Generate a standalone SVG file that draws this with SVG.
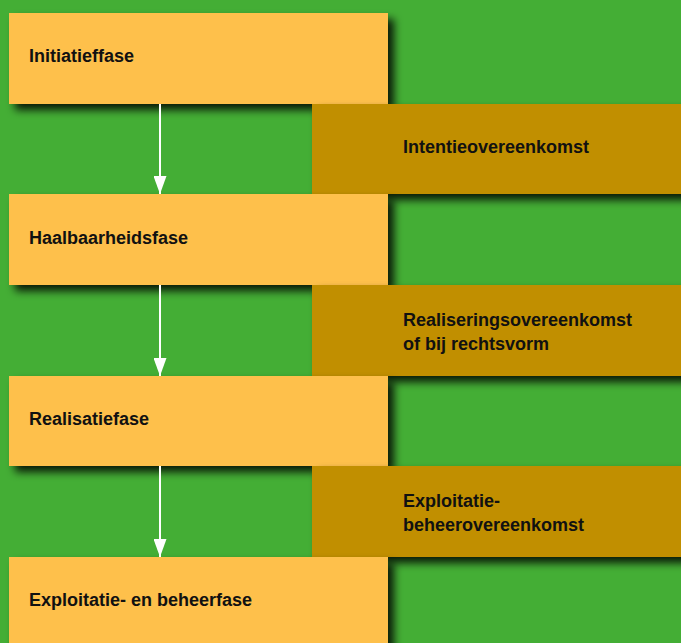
<svg xmlns="http://www.w3.org/2000/svg" width="681" height="643" viewBox="0 0 681 643">
<defs>
<filter id="sh" x="-10%" y="-20%" width="130%" height="150%">
<feDropShadow dx="6" dy="6" stdDeviation="4" flood-color="#000" flood-opacity="0.85"/>
</filter>
<marker id="ah" markerWidth="18" markerHeight="13" refX="18" refY="6.5" orient="auto" markerUnits="userSpaceOnUse" viewBox="0 0 18 13">
<path d="M0,0 L18,6.5 L0,13 Z" fill="#fff"/>
</marker>
<style>
.y{fill:#fec04b;filter:url(#sh)}
.b{fill:#c18f00;filter:url(#sh)}
text{font-family:"Liberation Sans",Arial,sans-serif;font-weight:bold;font-size:18px;fill:#111}
.c{stroke:#fff;stroke-width:2;fill:none}
</style>
</defs>
<rect width="681" height="643" fill="#44ae35"/>
<g id="n1"><rect class="y" x="9" y="13" width="379" height="91"/><text x="29" y="62">Initiatieffase</text></g>
<g id="n2"><rect class="b" x="312" y="104" width="380" height="90"/><text x="403" y="153">Intentieovereenkomst</text></g>
<g id="n3"><rect class="y" x="9" y="194" width="379" height="91"/><text x="29" y="244">Haalbaarheidsfase</text></g>
<g id="n4"><rect class="b" x="312" y="285" width="380" height="91"/><text x="403" y="326">Realiseringsovereenkomst</text><text x="403" y="350">of bij rechtsvorm</text></g>
<g id="n5"><rect class="y" x="9" y="376" width="379" height="90"/><text x="29" y="425">Realisatiefase</text></g>
<g id="n6"><rect class="b" x="312" y="466" width="380" height="91"/><text x="403" y="507">Exploitatie-</text><text x="403" y="531">beheerovereenkomst</text></g>
<g id="n7"><rect class="y" x="9" y="557" width="379" height="100"/><text x="29" y="606">Exploitatie- en beheerfase</text></g>
<g id="connectors">
<line class="c" x1="160" y1="104" x2="160" y2="194" marker-end="url(#ah)"/>
<line class="c" x1="160" y1="285" x2="160" y2="376" marker-end="url(#ah)"/>
<line class="c" x1="160" y1="466" x2="160" y2="557" marker-end="url(#ah)"/>
</g>
</svg>
